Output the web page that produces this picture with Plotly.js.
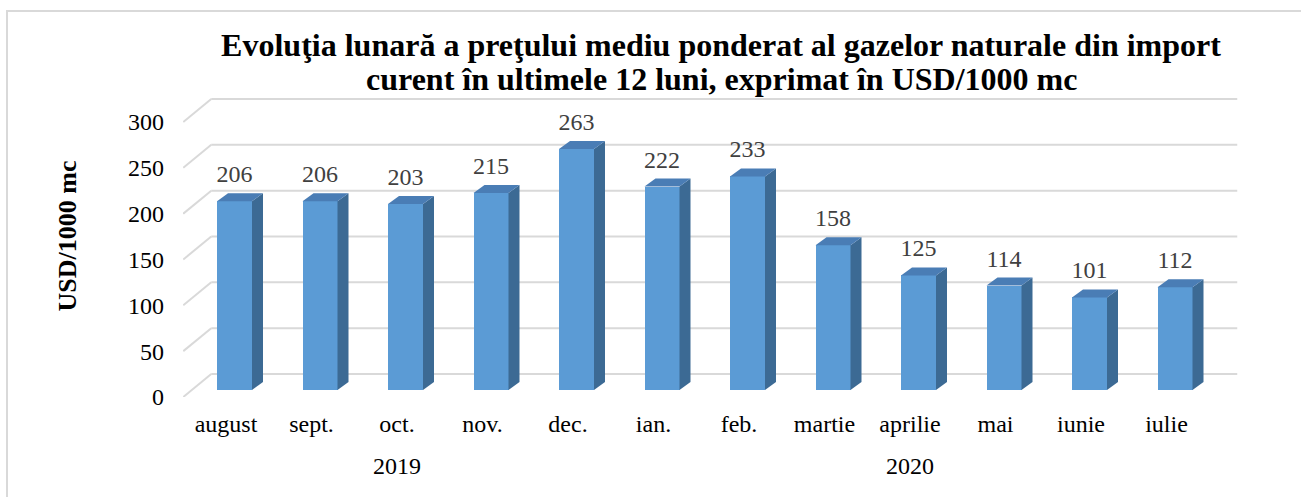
<!DOCTYPE html>
<html>
<head>
<meta charset="utf-8">
<script src="https://cdn.plot.ly/plotly-3.0.1.min.js"></script>
<style>
  html, body { margin: 0; padding: 0; background: #ffffff; }
  #wrap { position: relative; width: 1301px; height: 497px; overflow: hidden; }
  #chart { position: absolute; left: 0; top: 0; width: 1301px; height: 497px; }
  #frame { position: absolute; left: 6px; top: 10px; width: 1400px; height: 600px;
           border: 2px solid #d9d9d9; pointer-events: none; }
</style>
</head>
<body>
<div id="wrap"><div id="chart"></div><div id="frame"></div></div>
<script>
// ---- data ----
const months = ['august', 'sept.', 'oct.', 'nov.', 'dec.', 'ian.', 'feb.', 'martie', 'aprilie', 'mai', 'iunie', 'iulie'];
const years = ['2019', '2019', '2019', '2019', '2019', '2020', '2020', '2020', '2020', '2020', '2020', '2020'];
const prices = [206, 206, 203, 215, 263, 222, 233, 158, 125, 114, 101, 112];
const yTicks = [0, 50, 100, 150, 200, 250, 300];
const titleLine1 = 'Evoluţia lunară a preţului mediu ponderat al gazelor naturale din import';
const titleLine2 = 'curent în ultimele 12 luni, exprimat în USD/1000 mc';
const yTitle = 'USD/1000 mc';

// ---- geometry (pixels) ----
const W = 1301, H = 497;
const plotL = 183, plotR = 1240, plotT = 75, plotB = 397;
const catPx = 85.5;            // px per category
const unitPx = 275 / 300;      // px per USD unit
const cat0Px = 234.5;          // bar-plane centre of first category
const zeroPx = 390;            // bar-plane y of value 0
const barW = 35 / catPx;
const sideDx = 11, sideDy = 8;     // bar depth
const backDx = 19.5, backDy = 16;  // back wall offset from bar plane
const frontDx = -8.5, frontDy = -7; // front edge offset from bar plane

const x0 = -(cat0Px - plotL) / catPx;
const xRange = [x0, x0 + (plotR - plotL) / catPx];
// front-plane range (labels sit on the front edge of the floor)
const xf0 = -(cat0Px + frontDx - plotL) / catPx;
const xRangeFront = [xf0, xf0 + (plotR - plotL) / catPx];
const yRange = [-(plotB - zeroPx) / unitPx, (zeroPx - plotT) / unitPx];
const px2x = p => p / catPx, px2y = p => p / unitPx;

const frontCol = '#5b9bd5', sideCol = '#3c6a94', topCol = '#4a7db5', gridCol = '#d9d9d9';
const idx = months.map((m, i) => i);

// year group centres, derived from the years array
const yearNames = [...new Set(years)];
const yearCentres = yearNames.map(y => {
  const ii = idx.filter(i => years[i] === y);
  return ii.reduce((a, b) => a + b, 0) / ii.length;
});

const shapes = [];
// back wall gridlines + left depth lines
yTicks.forEach(t => {
  const bx0 = -0.5 + px2x(backDx), bx1 = months.length - 0.5 + px2x(backDx);
  const by = t + px2y(backDy);
  shapes.push({type: 'line', xref: 'x2', yref: 'y', x0: bx0, x1: bx1, y0: by, y1: by,
               line: {color: gridCol, width: 2}, layer: 'below'});
  shapes.push({type: 'line', xref: 'x2', yref: 'y', x0: -0.5 + px2x(frontDx), y0: t + px2y(frontDy),
               x1: bx0, y1: by, line: {color: gridCol, width: 2}, layer: 'below'});
});
// bar side and top faces
prices.forEach((v, i) => {
  const xl = i - barW / 2, xr = i + barW / 2, dx = px2x(sideDx), dy = px2y(sideDy);
  shapes.push({type: 'path', xref: 'x2', yref: 'y', layer: 'above', fillcolor: sideCol, line: {width: 0},
    path: `M${xr},0 L${xr},${v} L${xr + dx},${v + dy} L${xr + dx},${dy} Z`});
  shapes.push({type: 'path', xref: 'x2', yref: 'y', layer: 'above', fillcolor: topCol, line: {width: 0},
    path: `M${xl},${v} L${xr},${v} L${xr + dx},${v + dy} L${xl + dx},${v + dy} Z`});
});

const font = 'Liberation Serif, Times New Roman, serif';

const traces = [
  {type: 'bar', x: months, y: prices, width: barW,
   marker: {color: frontCol, line: {width: 0}}, hoverinfo: 'y', showlegend: false},
  {type: 'scatter', mode: 'text', xaxis: 'x2', yaxis: 'y', x: idx,
   y: prices.map(v => v + px2y(25)), text: prices.map(String), textposition: 'middle center',
   textfont: {family: font, size: 24, color: '#404040'}, hoverinfo: 'skip', showlegend: false, cliponaxis: false},
  {type: 'scatter', mode: 'markers', xaxis: 'x3', yaxis: 'y', x: idx, y: idx.map(() => 0),
   marker: {opacity: 0}, hoverinfo: 'skip', showlegend: false},
  {type: 'scatter', mode: 'markers', xaxis: 'x4', yaxis: 'y', x: yearCentres, y: yearCentres.map(() => 0),
   marker: {opacity: 0}, hoverinfo: 'skip', showlegend: false}
];

const labelAxis = (vals, text, standoff) => ({
  overlaying: 'x', type: 'linear', range: xRangeFront, showgrid: false, zeroline: false, showline: false,
  ticks: '', tickvals: vals, ticktext: text, tickfont: {family: font, size: 24, color: '#000000'},
  ticklabelstandoff: standoff, side: 'bottom', fixedrange: true
});

const layout = {
  width: W, height: H,
  margin: {l: plotL, r: W - plotR, t: plotT, b: H - plotB, pad: 0},
  paper_bgcolor: 'rgba(0,0,0,0)', plot_bgcolor: 'rgba(0,0,0,0)',
  font: {family: font, size: 24, color: '#000000'},
  title: {text: titleLine1, font: {family: font, size: 32, color: '#000000', weight: 'bold'},
          x: 721 / W, xanchor: 'center', xref: 'container', y: 1 - 45 / H, yanchor: 'middle', yref: 'container'},
  annotations: [
    {text: titleLine2, xref: 'paper', yref: 'paper', x: (721 - plotL) / (plotR - plotL),
     y: (plotB - 79) / (plotB - plotT), xanchor: 'center', yanchor: 'middle', showarrow: false,
     font: {family: font, size: 32, color: '#000000', weight: 'bold'}}
  ],
  bargap: 0,
  xaxis: {type: 'category', range: xRange, showgrid: false, zeroline: false, showline: false,
          ticks: '', showticklabels: false, fixedrange: true},
  xaxis2: {overlaying: 'x', type: 'linear', range: xRange, visible: false, fixedrange: true},
  xaxis3: labelAxis(idx, months, 10),
  xaxis4: labelAxis(yearCentres, yearNames, 52),
  yaxis: {range: yRange, tickvals: yTicks, ticktext: yTicks.map(String), showgrid: false, zeroline: false,
          showline: false, ticks: '', tickfont: {family: font, size: 24, color: '#000000'},
          ticklabelshift: -frontDy, ticklabelstandoff: 18, fixedrange: true,
          title: {text: yTitle, font: {family: font, size: 26, color: '#000000', weight: 'bold'}, standoff: 43}},
  shapes: shapes
};

Plotly.newPlot('chart', traces, layout, {displayModeBar: false, staticPlot: true});
</script>
</body>
</html>
